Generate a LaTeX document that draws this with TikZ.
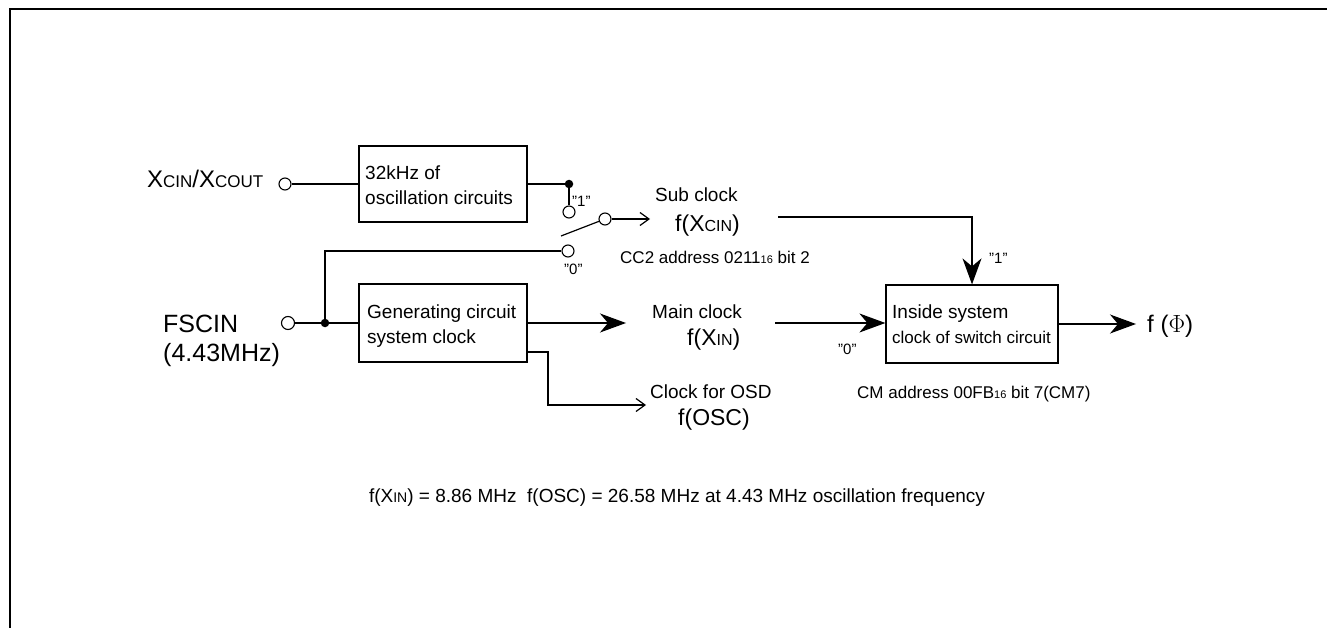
\documentclass[tikz,border=0pt]{standalone}
\usepackage{fontspec}
\setmainfont{Liberation Sans}
\usetikzlibrary{arrows.meta}
\newcommand{\fs}[1]{\fontsize{#1}{#1}\selectfont}
\newcommand{\dq}{\char"22\relax}
\begin{document}
\begin{tikzpicture}[x=1pt,y=-1pt,
  wire/.style={line width=1.2pt},
  blk/.style={draw,line width=1.2pt,inner sep=0pt},
  term/.style={circle,draw,line width=1.1pt,fill=white,inner sep=0pt,minimum size=12pt},
  dotj/.style={circle,fill=black,inner sep=0pt,minimum size=8.5pt},
  bigarr/.style={-{Stealth[length=26pt,width=19pt,inset=8pt]}},
  openarr/.style={-{Straight Barb[length=9pt,width=13pt,line width=1.2pt]}},
  lbl/.style={anchor=base west,inner sep=0pt},
]
\useasboundingbox (0,0) rectangle (1327,628);
% frame
\draw[line width=2.2pt] (10,628) -- (10,9) -- (1327,9);

% blocks
\node[blk,minimum width=168pt,minimum height=76pt] (osc) at (443,184) {};
\node[blk,minimum width=168pt,minimum height=78pt] (gen) at (443,323) {};
\node[blk,minimum width=172pt,minimum height=78pt] (sw) at (972,324) {};

% terminals
\node[term] (tx) at (285,184) {};
\node[term,minimum size=13pt] (tf) at (288,323) {};
\node[term] (s1) at (569,212) {};
\node[term] (sc) at (605,219) {};
\node[term] (s0) at (568,251) {};
\node[dotj] (j1) at (569,184) {};
\node[dotj] (j2) at (325,323) {};
\coordinate (arm) at (561,236);
\coordinate (subtip) at (650,219);
\coordinate (maintip) at (626,323);
\coordinate (g2) at (527,352);
\coordinate (bend) at (548,352);
\coordinate (osdtip) at (646,405);
\coordinate (subst) at (778,217);
\coordinate (mst) at (775,323);
\coordinate (outtip) at (1136,324);

% wires
\draw[wire] (tx) -- (osc.west);
\draw[wire] (osc.east) -- (j1) -- (s1);
\draw[wire] (tf) -- (j2) -- (gen.west);
\draw[wire] (j2) |- (s0);
\draw[wire] (arm) -- (sc);
\draw[wire,openarr] (sc) -- (subtip);
\draw[wire,bigarr] (gen.east) -- (maintip);
\draw[wire,openarr] (g2) -- (bend) |- (osdtip);
\draw[wire,bigarr] (subst) -| (sw.north);
\draw[wire,bigarr] (mst) -- (mst -| sw.west);
\draw[wire,bigarr] (sw.east) -- (outtip);

% texts
\node[lbl] (xcin) at (147,188) {\fs{24}X{\fs{17}CIN}/X{\fs{17}COUT}};
\node[lbl] (osct1) at (365,180) {\fs{19}32kHz of};
\node[lbl] (osct2) at (365,205) {\fs{19}oscillation circuits};
\node[lbl] (gent1) at (367,318) {\fs{19}Generating circuit};
\node[lbl] (gent2) at (367,343) {\fs{19}system clock};
\node[lbl] (fscin) at (163,332) {\fs{25}FSCIN};
\node[lbl] (fsfr) at (163,361) {\fs{25}(4.43MHz)};
\node[lbl] (q1) at (572,207) {\fs{15}\dq1\dq};
\node[lbl] (q0) at (564,274) {\fs{15}\dq0\dq};
\node[lbl] (subc) at (655,202) {\fs{19}Sub clock};
\node[lbl] (fxcin) at (675,232) {\fs{23}f(X{\fs{16}CIN})};
\node[lbl] (cc2) at (620,264) {\fs{17}CC2 address 0211{\fs{11}16} bit 2};
\node[lbl] (mainc) at (652,318) {\fs{19}Main clock};
\node[lbl] (fxin) at (687,345) {\fs{23}f(X{\fs{16}IN})};
\node[lbl] (osdc) at (650,398) {\fs{19}Clock for OSD};
\node[lbl] (fosc) at (678,425) {\fs{23}f(OSC)};
\node[lbl] (q0b) at (838,354) {\fs{15}\dq0\dq};
\node[lbl] (q1b) at (989,264) {\fs{15}\dq1\dq};
\node[lbl] (inst1) at (892,318) {\fs{19}Inside system};
\node[lbl] (inst2) at (892,343) {\fs{17}clock of switch circuit};
\node[lbl] (fphi) at (1147,332) {\fs{24}f ($\Phi$)};
\node[lbl] (cm) at (857,398) {\fs{17}CM address 00FB{\fs{11}16} bit 7(CM7)};
\node[anchor=base,inner sep=0pt] (note) at (677,502) {\fs{19}f(X{\fs{14}IN}) = 8.86 MHz\ \ f(OSC) = 26.58 MHz at 4.43 MHz oscillation frequency};
\end{tikzpicture}
\end{document}
